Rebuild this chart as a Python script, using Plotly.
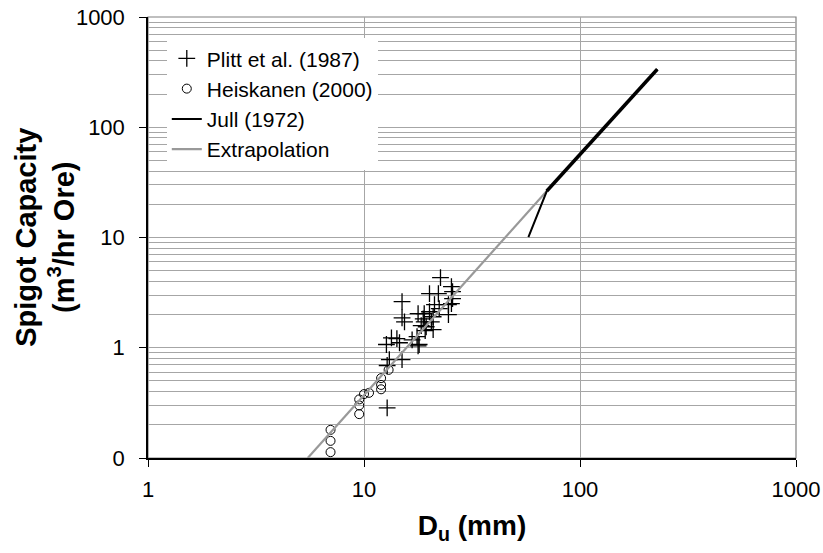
import plotly.graph_objects as go

# Plitt et al. (1987) data: D_u (mm) vs spigot capacity (m3/hr ore)
plitt_du = [22.6, 25.4, 20.1, 22.1, 25.7, 25.7, 25.4, 24.6, 21.2, 22.3,
            15.0, 17.8, 19.0, 20.1, 24.6, 20.9, 18.8, 19.0, 20.5, 18.4,
            19.4, 15.0, 15.4, 13.4, 14.2, 14.6, 12.7, 18.0, 16.7, 13.1,
            15.0, 12.8, 12.8, 20.9, 19.2, 17.6, 17.8]
plitt_cap = [4.33, 3.58, 3.10, 3.10, 3.23, 2.79, 2.51, 2.46, 2.46, 2.26,
             2.62, 2.04, 2.04, 2.12, 2.00, 1.91, 1.83, 1.72, 1.72, 1.59,
             1.55, 1.87, 1.72, 1.23, 1.21, 1.11, 1.07, 1.07, 1.18, 0.78,
             0.78, 0.69, 0.285, 1.46, 1.43, 1.26, 1.04]

# Heiskanen (2000)
heis_du = [13.0, 12.0, 12.0, 12.0, 10.55, 10.0, 9.5, 9.5, 9.5, 7.0, 7.0, 7.0]
heis_cap = [0.63, 0.53, 0.46, 0.42, 0.39, 0.38, 0.34, 0.30, 0.25, 0.18, 0.143, 0.113]

# Jull (1972)
jull_du = [57.7, 70.2, 228]
jull_cap = [10.1, 26.4, 336]

# Extrapolation
extra_du = [5.49, 70.2]
extra_cap = [0.1, 26.4]

x_ticks = [1, 10, 100, 1000]
x_ticktext = ["1", "10", "100", "1000"]
y_ticks = [0.1, 1, 10, 100, 1000]
y_ticktext = ["0", "1", "10", "100", "1000"]

FONT = "Liberation Sans, Arial, sans-serif"
GRID = "#a6a6a6"

fig = go.Figure()
fig.add_trace(go.Scatter(
    x=plitt_du, y=plitt_cap, mode="markers", name="Plitt et al. (1987)",
    marker=dict(symbol="cross-thin-open", size=12, color="black",
                line=dict(color="black", width=1.3)),
    legendgroup="a", legendrank=1))
fig.add_trace(go.Scatter(
    x=heis_du, y=heis_cap, mode="markers", name="Heiskanen (2000)",
    marker=dict(symbol="circle-open", size=9, color="black", line=dict(color="black", width=1)),
    legendgroup="b", legendrank=2))
fig.add_trace(go.Scatter(
    x=extra_du, y=extra_cap, mode="lines", name="Extrapolation",
    line=dict(color="#999999", width=2.2), legendgroup="d", legendrank=4))
fig.add_trace(go.Scatter(
    x=jull_du, y=jull_cap, mode="lines", name="Jull (1972)",
    line=dict(color="black", width=2), legendgroup="c", legendrank=3))
fig.add_trace(go.Scatter(
    x=jull_du[1:], y=jull_cap[1:], mode="lines", showlegend=False,
    line=dict(color="black", width=3.5), legendgroup="c"))

minor_y = [m * 10 ** e for e in range(-1, 3) for m in range(2, 10)]

fig.update_layout(
    width=823, height=553,
    margin=dict(l=148, r=27, t=17, b=95),
    paper_bgcolor="white", plot_bgcolor="white",
    font=dict(family=FONT, color="black", size=21),
    showlegend=True,
    legend=dict(x=0.029, y=0.952, xanchor="left", yanchor="top",
                bgcolor="white", borderwidth=0,
                font=dict(family=FONT, size=21, color="black"),
                traceorder="normal", tracegroupgap=3),
    xaxis=dict(type="log", range=[0, 3], tickvals=x_ticks, ticktext=x_ticktext,
               automargin=False,
               showgrid=True, gridcolor=GRID, gridwidth=1,
               showline=True, linecolor="black", linewidth=1.5,
               ticks="outside", ticklen=7, tickcolor="black",
               tickfont=dict(family=FONT, size=22), ticklabelstandoff=4,
               title=dict(text="<b>D<sub>u</sub> (mm)</b>", font=dict(family=FONT, size=28),
                          standoff=14),
               zeroline=False),
    yaxis=dict(type="log", range=[-1, 3], tickvals=y_ticks, ticktext=y_ticktext,
               automargin=False,
               showgrid=True, gridcolor=GRID, gridwidth=1,
               minor=dict(tickvals=minor_y, showgrid=True, gridcolor=GRID, gridwidth=1, ticks=""),
               showline=True, linecolor="black", linewidth=1.5,
               ticks="outside", ticklen=7, tickcolor="black",
               tickfont=dict(family=FONT, size=22), ticklabelstandoff=10,
               zeroline=False),
    annotations=[dict(
        text="<b>Spigot Capacity<br>(m<sup>3</sup>/hr Ore)</b>",
        xref="paper", yref="paper", x=-0.16, y=0.5, xanchor="center", yanchor="middle",
        textangle=-90, showarrow=False, font=dict(family=FONT, size=29, color="black"))],
)

# gray border on top/right of the plot area
fig.add_shape(type="rect", xref="x domain", yref="y domain", x0=0, x1=1, y0=0, y1=1,
              line=dict(color="#808080", width=1.2), layer="below")

fig.write_html("out.html")
